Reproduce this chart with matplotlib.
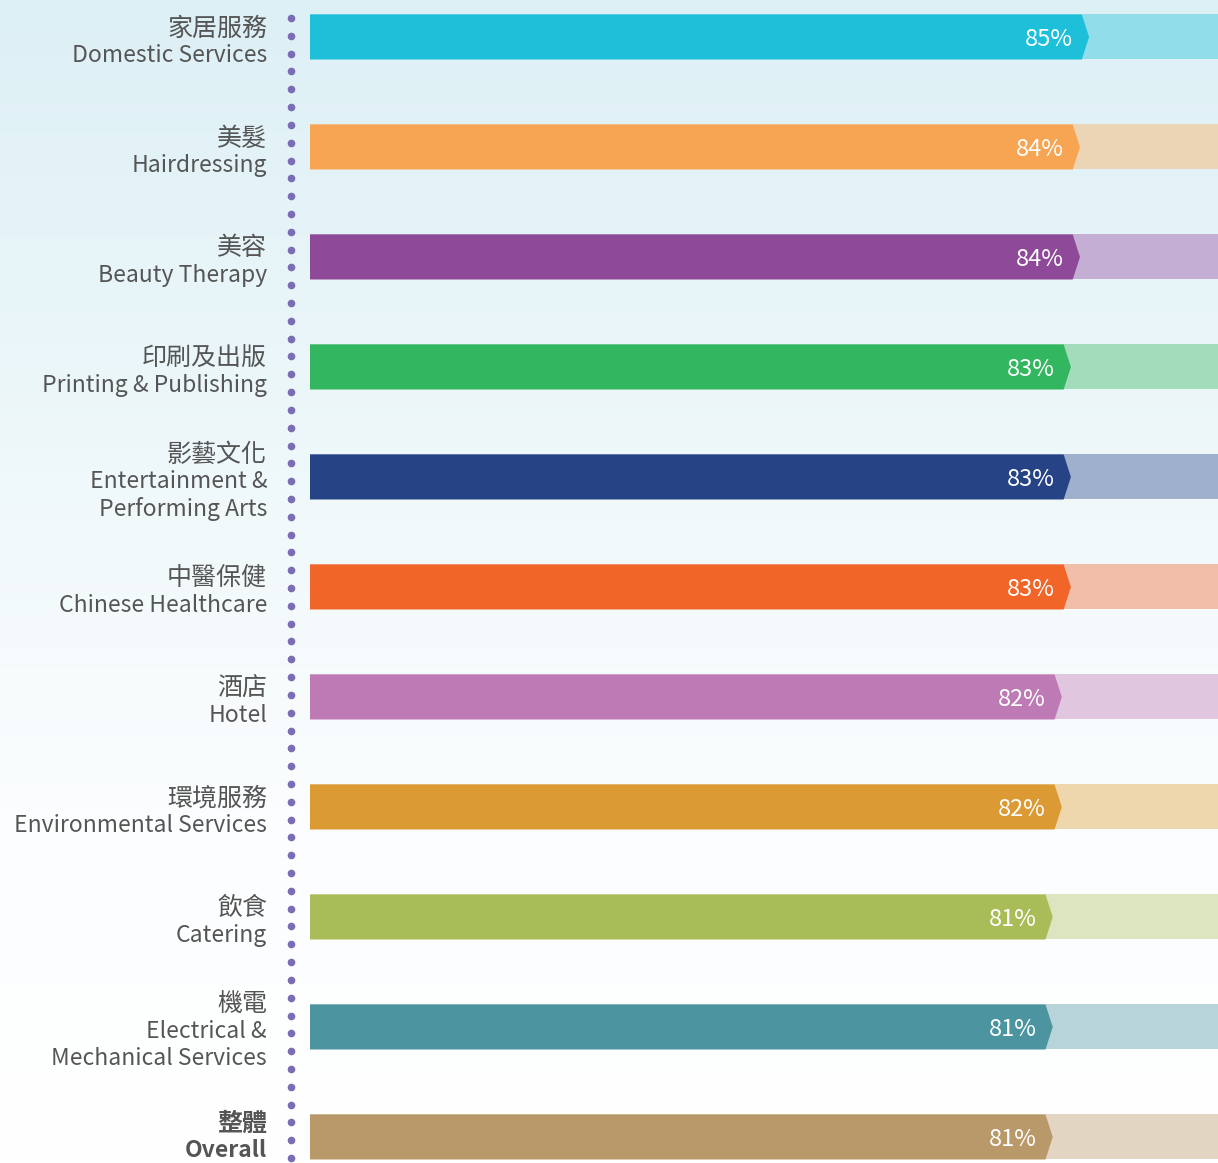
import numpy as np
import matplotlib
matplotlib.use("Agg")
import matplotlib.pyplot as plt
from matplotlib.patches import Polygon, Rectangle
from matplotlib.colors import LinearSegmentedColormap
from matplotlib.transforms import blended_transform_factory

plt.rcParams['font.family'] = ['Noto Sans CJK TC', 'DejaVu Sans']

labels_zh = ["家居服務", "美髮", "美容", "印刷及出版", "影藝文化", "中醫保健",
             "酒店", "環境服務", "飲食", "機電", "整體"]
labels_en = ["Domestic Services", "Hairdressing", "Beauty Therapy",
             "Printing & Publishing", "Entertainment &\nPerforming Arts",
             "Chinese Healthcare", "Hotel", "Environmental Services", "Catering",
             "Electrical &\nMechanical Services", "Overall"]
values = [85, 84, 84, 83, 83, 83, 82, 82, 81, 81, 81]
dark_colors = ["#1dbfd9", "#f7a553", "#8e4a99", "#33b660", "#254385", "#f26529",
               "#bd7ab5", "#dc9a35", "#a8bd57", "#4c95a0", "#b99869"]
light_colors = ["#91dde9", "#ebd5b5", "#c5aed3", "#a3dcbb", "#9fb0cc", "#f0bea9",
                "#e0c6de", "#eed6ad", "#dce5bf", "#b7d5d8", "#e2d5c2"]

W, H = 1218, 1163
fig = plt.figure(figsize=(W / 100, H / 100), dpi=100)

# background gradient (light blue at top fading to white)
bg = fig.add_axes([0, 0, 1, 1], zorder=-10)
grad_cmap = LinearSegmentedColormap.from_list(
    "bg", [(0, "#ffffff"), (0.3, "#fbfdfe"), (0.55, "#f1f9fb"), (1.0, "#ddf0f6")])
bg.imshow(np.linspace(0, 1, 256).reshape(-1, 1), aspect="auto", cmap=grad_cmap,
          origin="lower", extent=[0, 1, 0, 1])
bg.set_axis_off()

left = 310 / W
ax = fig.add_axes([left, 0, 1 - left, 1])
ax.patch.set_visible(False)
ax.set_xlim(0, 100)
n = len(values)
pitch = 110
ax.set_ylim((n - 1) + (H - 37 - (n - 1) * pitch) / pitch, -37 / pitch)
ax.set_axis_off()

bar_h = 45 / pitch
tip = 0.8
for i, (v, dc, lc) in enumerate(zip(values, dark_colors, light_colors)):
    ax.add_patch(Rectangle((0, i - bar_h / 2), 100, bar_h, color=lc, lw=0))
    ax.add_patch(Polygon([(0, i - bar_h / 2), (v, i - bar_h / 2), (v + tip, i),
                          (v, i + bar_h / 2), (0, i + bar_h / 2)],
                         closed=True, color=dc, lw=0))
    ax.text(v - 1.0, i + 0.02, f"{v}%", color="white", fontsize=17,
            ha="right", va="center")

# category labels
tr = blended_transform_factory(fig.transFigure, ax.transData)
lx = 267 / W
line = 27 / pitch
for i, (zh, en) in enumerate(zip(labels_zh, labels_en)):
    en_lines = en.split("\n")
    nl = 1 + len(en_lines)
    start = i - (nl - 1) / 2 * line + (0.045 if i < n - 1 else 0.0)
    weight = "bold" if en == "Overall" else "normal"
    ax.text(lx, start, zh, transform=tr, ha="right", va="center",
            fontsize=18, color="#555555", fontweight=weight)
    for k, t in enumerate(en_lines):
        ax.text(lx, start + (k + 1) * line, t, transform=tr, ha="right",
                va="center", fontsize=16.5, color="#555555", fontweight=weight)

# dotted separator
dot_y = 1 - np.linspace(18, 1158, 65) / H
fig.add_artist(plt.Line2D(np.full_like(dot_y, 291 / W), dot_y, ls="none",
                          marker="o", ms=4.5, color="#7a6db5",
                          transform=fig.transFigure))

fig.savefig("out.png", dpi=100)
